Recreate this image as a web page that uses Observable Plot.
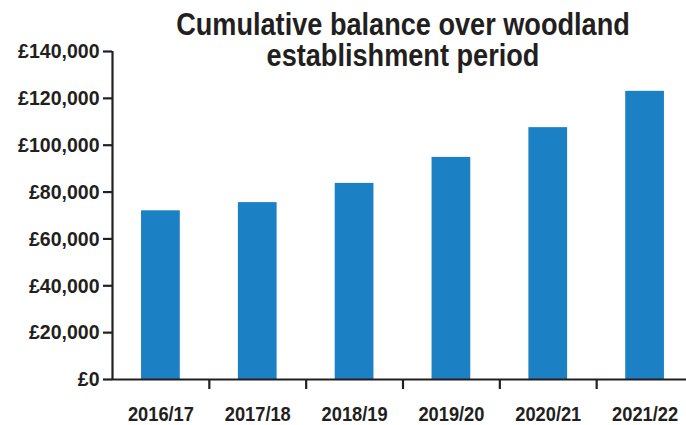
<!DOCTYPE html>
<html>
<head>
<meta charset="utf-8">
<script src="https://cdn.jsdelivr.net/npm/d3@7"></script>
<script src="https://cdn.jsdelivr.net/npm/@observablehq/plot@0.6"></script>
<style>
  html, body { margin: 0; padding: 0; background: #fff; }
  #wrap { position: relative; width: 686px; height: 425px; overflow: hidden; }
  #title {
    position: absolute; left: 103px; width: 600px; top: 9px;
    text-align: center; font-family: "Liberation Sans", Arial, sans-serif;
    font-weight: bold; font-size: 31px; line-height: 31px; color: #231f20;
    transform: scaleX(0.875); transform-origin: 300px 0;
  }
  svg text { font-family: "Liberation Sans", Arial, sans-serif; }
</style>
</head>
<body>
<div id="wrap"><div id="title">Cumulative balance over woodland<br>establishment period</div></div>
<script>
const categories = ["2016/17", "2017/18", "2018/19", "2019/20", "2020/21", "2021/22"];
const balance = [72000, 75500, 83700, 94800, 107500, 123000];
const yTicks = [0, 20000, 40000, 60000, 80000, 100000, 120000, 140000];

const data = categories.map((c, i) => ({i, c, v: balance[i]}));
const boundaries = categories.slice(1).map((c, i) => i + 0.5);
const ink = "#231f20";

const chart = Plot.plot({
  width: 686,
  height: 425,
  marginLeft: 112,
  marginRight: 0,
  marginTop: 51,
  marginBottom: 46,
  style: {fontSize: "21px", fontWeight: "bold", color: ink, background: "transparent", overflow: "visible"},
  x: {type: "linear", domain: [-0.5, 5.5], range: [112, 693]},
  y: {domain: [0, 140000]},
  marks: [
    Plot.rectY(data, {x1: d => d.i - 0.2, x2: d => d.i + 0.2, y1: 0, y2: "v", fill: "#1b81c4"}),
    Plot.ruleY([0], {stroke: ink, strokeWidth: 2.2}),
    Plot.ruleX([-0.5], {y1: 0, y2: 140000, stroke: ink, strokeWidth: 2.2}),
    Plot.axisY({ticks: yTicks, tickSize: 9, tickPadding: 4, strokeWidth: 2.2, stroke: ink,
      tickFormat: d => "£" + d3.format(",")(d), label: null, fill: ink}),
    Plot.axisX({ticks: boundaries, tickSize: 10, strokeWidth: 2.2, stroke: ink, tickFormat: () => "", label: null}),
    Plot.axisX({ticks: categories.map((c, i) => i), tickSize: 0, tickPadding: 27,
      tickFormat: i => categories[i], label: null, fill: ink})
  ]
});
chart.style.position = "absolute";
chart.style.left = "0px";
chart.style.top = "0px";
document.getElementById("wrap").prepend(chart);

function squeeze(sel, k) {
  chart.querySelectorAll(sel).forEach(t => {
    const tr = t.getAttribute("transform") || "";
    t.setAttribute("transform", tr + ` scale(${k},1)`);
  });
}
squeeze('g[aria-label="y-axis tick label"] text', 0.93);
squeeze('g[aria-label="x-axis tick label"] text', 0.87);
</script>
</body>
</html>
